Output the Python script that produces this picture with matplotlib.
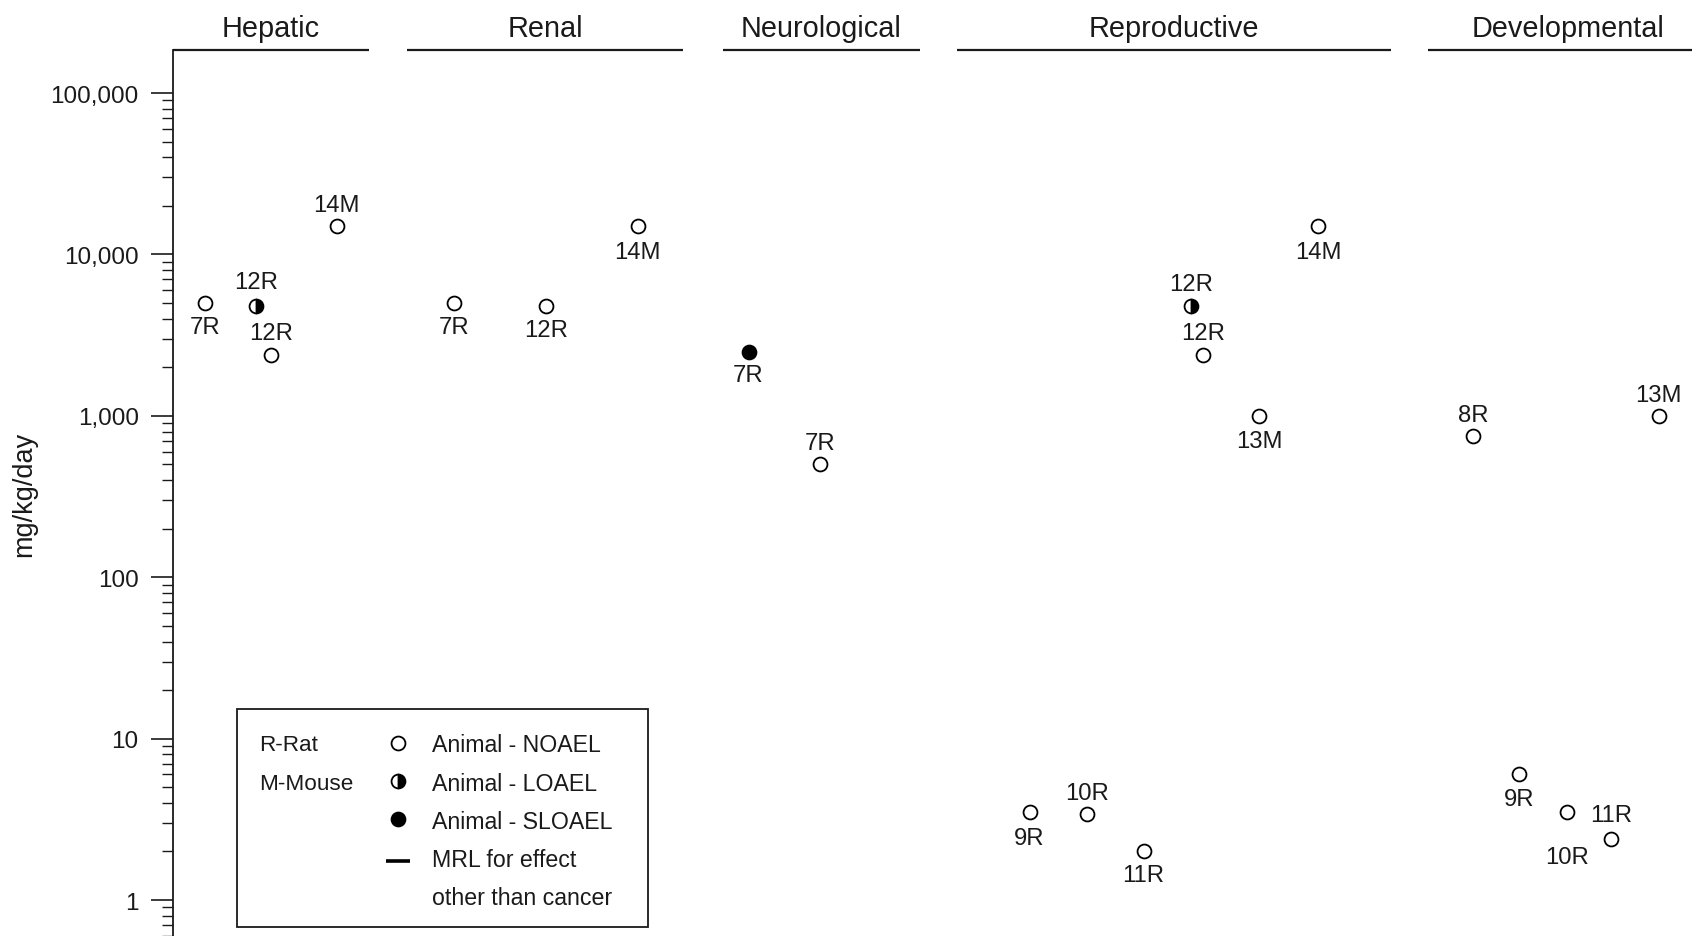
import numpy as np
import matplotlib
matplotlib.use('Agg')
import matplotlib.pyplot as plt
import matplotlib.transforms as mtransforms
from matplotlib.patches import Rectangle
from matplotlib.ticker import LogLocator, FuncFormatter, NullFormatter

plt.rcParams['font.family'] = ['Liberation Sans', 'DejaVu Sans']

# effect categories (header text) and the span of each header line on the x scale
categories = ['Hepatic', 'Renal', 'Neurological', 'Reproductive', 'Developmental']
cat_start = [0.0, 15.4, 36.2, 51.6, 82.6]
cat_end = [12.9, 33.6, 49.2, 80.2, 101.1]

# study points: x position, dose (mg/kg/day), label, kind (N=NOAEL, L=LOAEL, S=SLOAEL)
pt_x = [2.1, 5.5, 6.5, 10.8,
        18.5, 24.6, 30.6,
        37.9, 42.6,
        56.4, 60.2, 63.9, 67.0, 67.8, 71.5, 75.4,
        85.6, 88.6, 91.8, 94.7, 97.8]
pt_dose = [5000, 4800, 2400, 15000,
           5000, 4800, 15000,
           2500, 500,
           3.5, 3.4, 2.0, 4800, 2400, 1000, 15000,
           750, 6.0, 3.5, 2.4, 1000]
pt_label = ['7R', '12R', '12R', '14M',
            '7R', '12R', '14M',
            '7R', '7R',
            '9R', '10R', '11R', '12R', '12R', '13M', '14M',
            '8R', '9R', '10R', '11R', '13M']
pt_kind = ['N', 'L', 'N', 'N',
           'N', 'N', 'N',
           'S', 'N',
           'N', 'N', 'N', 'L', 'N', 'N', 'N',
           'N', 'N', 'N', 'N', 'N']
# label offset in points (positive = above the marker)
pt_offset = [-17, 17, 15.5, 15.5,
             -17, -17, -18.5,
             -17, 15.5,
             -18.5, 15.5, -17, 15.5, 15.5, -18, -18.5,
             15.5, -18, -32.5, 17, 15]

TXT = '#1a1a1a'
W, H = 1692, 937

fig = plt.figure(figsize=(W / 100, H / 100), dpi=100)
ax = fig.add_axes([172.7 / W, 0, 1 - 172.7 / W, 1 - 50.7 / H])

ax.set_yscale('log')
ax.set_ylim(0.599, 185700)
ax.set_xlim(0, 100)

for s in ['top', 'right', 'bottom']:
    ax.spines[s].set_visible(False)
ax.spines['left'].set_linewidth(1.3)
ax.spines['left'].set_color(TXT)
ax.set_xticks([])

ax.yaxis.set_major_locator(LogLocator(base=10, numticks=10))
ax.yaxis.set_minor_locator(LogLocator(base=10, subs=np.arange(2, 10), numticks=20))
ax.yaxis.set_major_formatter(FuncFormatter(lambda v, p: '{:,.0f}'.format(v)))
ax.yaxis.set_minor_formatter(NullFormatter())
ax.tick_params(axis='y', which='major', direction='out', length=15.5, width=1.2,
               pad=9, labelsize=17.5, colors=TXT)
ax.tick_params(axis='y', which='minor', direction='out', length=8, width=1.0, colors=TXT)

# headers with their lines
trans = mtransforms.blended_transform_factory(ax.transData, ax.transAxes)
for name, s, e in zip(categories, cat_start, cat_end):
    ax.plot([s, e], [1, 1], color=TXT, lw=1.6, transform=trans, clip_on=False,
            solid_capstyle='butt')
    ax.text((s + e) / 2, 1.0245, name, transform=trans, ha='center', va='center',
            fontsize=20.8, color=TXT)

# markers
x = np.array(pt_x)
d = np.array(pt_dose)
k = np.array(pt_kind)
mstyle = dict(ls='none', marker='o', ms=10, mew=1.3, mec='black', clip_on=False)
ax.plot(x[k == 'N'], d[k == 'N'], mfc='white', **mstyle)
ax.plot(x[k == 'L'], d[k == 'L'], fillstyle='right', mfc='black', mfcalt='white', **mstyle)
ax.plot(x[k == 'S'], d[k == 'S'], mfc='black', **mstyle)

for xi, di, lab, off in zip(pt_x, pt_dose, pt_label, pt_offset):
    ax.annotate(lab, (xi, di), xytext=(0, off), textcoords='offset points',
                ha='center', va='center', fontsize=17.2, color=TXT)

fig.text(24 / W, 1 - 494 / H, 'mg/kg/day', rotation=90, ha='center', va='center',
         fontsize=19.5, color=TXT)

# legend box
fx = lambda px: px / W
fy = lambda py: 1 - py / H
fig.add_artist(Rectangle((fx(237.4), fy(928)), fx(647.5) - fx(237.4), fy(710) - fy(928),
                         transform=fig.transFigure, fill=False, ec=TXT, lw=1.3))
rows = [746, 784.5, 822.5, 860.5, 899]
fig.text(fx(259), fy(rows[0]), 'R-Rat', ha='left', va='center', fontsize=16.2, color=TXT)
fig.text(fx(259), fy(rows[1]), 'M-Mouse', ha='left', va='center', fontsize=16.2, color=TXT)
leg_text = ['Animal - NOAEL', 'Animal - LOAEL', 'Animal - SLOAEL', 'MRL for effect',
            'other than cancer']
for t, r in zip(leg_text, rows):
    fig.text(fx(431.6), fy(r), t, ha='left', va='center', fontsize=16.7, color=TXT)
mx = fx(398.2)
ax.plot([mx], [fy(743.5)], transform=fig.transFigure, mfc='white', **mstyle)
ax.plot([mx], [fy(782.3)], transform=fig.transFigure, fillstyle='right',
        mfc='black', mfcalt='white', **mstyle)
ax.plot([mx], [fy(820.1)], transform=fig.transFigure, mfc='black', **mstyle)
ax.plot([fx(386), fx(410)], [fy(862), fy(862)], transform=fig.transFigure, color='black',
        lw=2.6, clip_on=False, solid_capstyle='butt')

fig.savefig('out.png', dpi=100)
